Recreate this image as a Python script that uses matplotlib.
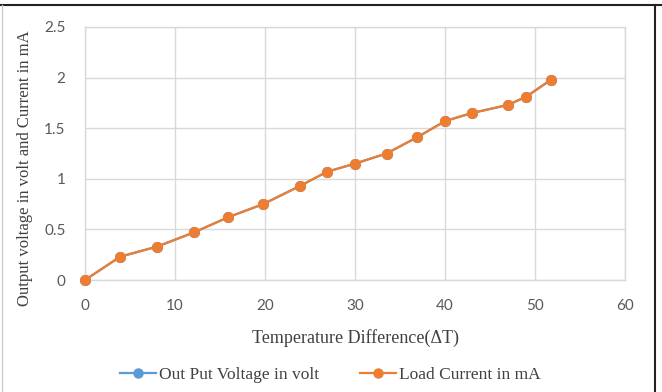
import matplotlib.pyplot as plt
from matplotlib.lines import Line2D

delta_t = [0, 3.9, 8, 12.1, 15.9, 19.8, 23.9, 26.9, 30, 33.5, 36.9, 40, 43, 47, 49, 51.8]
voltage = [0, 0.23, 0.33, 0.47, 0.62, 0.75, 0.93, 1.07, 1.15, 1.25, 1.41, 1.57, 1.65, 1.73, 1.81, 1.98]
current = [0, 0.23, 0.33, 0.47, 0.62, 0.75, 0.93, 1.07, 1.15, 1.25, 1.41, 1.57, 1.65, 1.73, 1.81, 1.98]
x_ticks = [0, 10, 20, 30, 40, 50, 60]
y_ticks = [0, 0.5, 1, 1.5, 2, 2.5]
y_tick_labels = ["0", "0.5", "1", "1.5", "2", "2.5"]
series_names = ["Out Put Voltage in volt", "Load Current in mA"]

blue = "#5B9BD5"
orange = "#ED7D31"
tick_color = "#595959"
grid_color = "#D9D9D9"

fig = plt.figure(figsize=(6.62, 3.92), dpi=100)
ax = fig.add_axes([85/662, 1 - 280/392, (625 - 85)/662, (280 - 27)/392])

ax.plot(delta_t, voltage, color=blue, marker="o", markersize=7, linewidth=1.6,
        markeredgecolor=blue, label=series_names[0], zorder=3, clip_on=False)
ax.plot(delta_t, current, color=orange, marker="o", markersize=7, linewidth=1.6,
        markeredgecolor=orange, label=series_names[1], zorder=4, clip_on=False)

ax.set_xlim(0, 60)
ax.set_ylim(0, 2.5)
ax.set_xticks(x_ticks)
ax.set_yticks(y_ticks)
ax.set_yticklabels(y_tick_labels)
ax.grid(True, color=grid_color, linewidth=1)
ax.set_axisbelow(True)
for s in ax.spines.values():
    s.set_color(grid_color)
    s.set_linewidth(1)
ax.tick_params(axis="y", length=0, pad=14, labelsize=11, colors=tick_color)
ax.tick_params(axis="x", length=0, pad=14, labelsize=11, colors=tick_color)
for lab in ax.get_xticklabels() + ax.get_yticklabels():
    lab.set_fontfamily("Lato")

ax.set_xlabel("Temperature Difference(\u0394T)", fontfamily="Liberation Serif",
              fontsize=13, color="#404040")
ax.xaxis.set_label_coords((355 - 85) / 540, (280 - 338) / 253)
ax.xaxis.label.set_va("center")
ax.set_ylabel("Output voltage in volt and Current in mA", fontfamily="Liberation Serif",
              fontsize=12, color="#404040")
ax.yaxis.set_label_coords((33 - 85) / 540, (280 - 168) / 253)

handles = [Line2D([0], [0], color=blue, marker="o", markersize=6.5, linewidth=1.6),
           Line2D([0], [0], color=orange, marker="o", markersize=6.5, linewidth=1.6)]
fig.legend(handles, series_names, loc="center", bbox_to_anchor=(0.499, 1 - 375/392),
           ncol=2, frameon=False, prop={"family": "Liberation Serif", "size": 12.5},
           handlelength=2.1, handletextpad=0.2, columnspacing=2.3, labelcolor="#404040")

# outer figure frame
fig.add_artist(Line2D([0, 1], [1 - 5/392, 1 - 5/392], transform=fig.transFigure, color="#222222", linewidth=1.5))
fig.add_artist(Line2D([655/662, 655/662], [0, 1 - 5/392], transform=fig.transFigure, color="#222222", linewidth=1.5))
fig.add_artist(Line2D([2/662, 2/662], [0, 1 - 5/392], transform=fig.transFigure, color="#CCCCCC", linewidth=1))

fig.savefig("out.png", dpi=100)
